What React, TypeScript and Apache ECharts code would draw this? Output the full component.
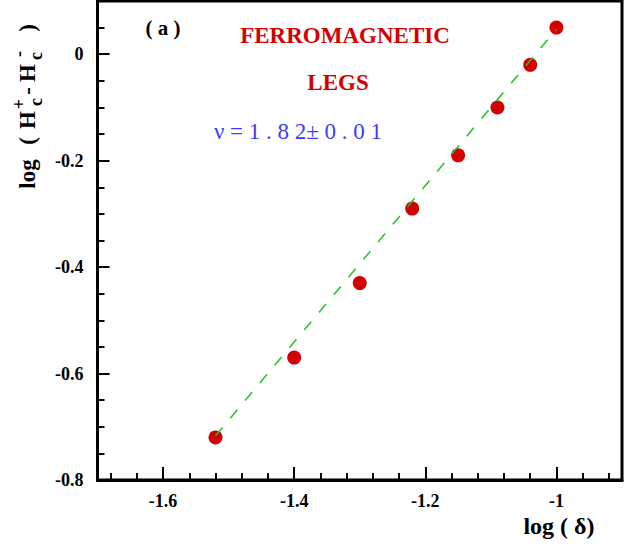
import React, { useEffect, useRef } from "react";
import * as echarts from "echarts";

const xValues = [-1.52, -1.4, -1.3, -1.22, -1.15, -1.09, -1.04, -1.0];
const yValues = [-0.72, -0.57, -0.43, -0.29, -0.19, -0.1, -0.02, 0.05];
const fitX = [-1.52, -1.0];
const fitY = [-0.717, 0.047];
const xMajorTicks = [-1.6, -1.4, -1.2, -1.0];
const yMajorTicks = [-0.8, -0.6, -0.4, -0.2, 0];

const X_MIN = -1.7, X_MAX = -0.9, Y_MIN = -0.8, Y_MAX = 0.1;

function steps(from: number, to: number, step: number): number[] {
  const out: number[] = [];
  const n = Math.round((to - from) / step);
  for (let i = 0; i <= n; i++) out.push(Math.round((from + i * step) * 1000) / 1000);
  return out;
}
const xMinorTicks = steps(-1.68, -0.92, 0.04);
const yMinorTicks = steps(-0.75, 0.05, 0.05);

const SERIF = "'Liberation Serif', 'Times New Roman', serif";
const RED = "#d20000";
const BLUE = "#3c3cff";

export default function App() {
  const ref = useRef<HTMLDivElement>(null);
  useEffect(() => {
    if (!ref.current) return;
    const chart = echarts.init(ref.current, null, { renderer: "svg" });
    const baseAxis = {
      type: "value",
      axisLine: { show: true, onZero: false, lineStyle: { color: "#000", width: 3 } },
      splitLine: { show: false },
    };
    const labelStyle = { color: "#000", fontFamily: SERIF, fontWeight: "bold", fontSize: 18 };
    const rot = Math.PI / 2;
    const yt = (text: string, x: number, y: number, size: number) => ({
      type: "text",
      x,
      y,
      rotation: rot,
      style: {
        text,
        fill: "#000",
        font: `bold ${size}px ${SERIF}`,
        textAlign: "center",
        textVerticalAlign: "middle",
      },
    });
    const option: any = {
      animation: false,
      backgroundColor: "#fff",
      grid: {
        left: 97.5,
        right: 11,
        top: 1,
        bottom: 67,
        show: true,
        borderColor: "#000",
        borderWidth: 3,
        outerBoundsMode: "none",
        containLabel: false,
      },
      xAxis: [
        {
          ...baseAxis,
          min: X_MIN,
          max: X_MAX,
          position: "bottom",
          axisTick: {
            show: true,
            inside: true,
            length: 13,
            customValues: xMajorTicks,
            lineStyle: { color: "#000", width: 2 },
          },
          axisLabel: { ...labelStyle, margin: 12, customValues: xMajorTicks },
        },
        {
          ...baseAxis,
          min: X_MIN,
          max: X_MAX,
          position: "bottom",
          axisLine: { show: false, onZero: false },
          axisTick: {
            show: true,
            inside: true,
            length: 7,
            customValues: xMinorTicks,
            lineStyle: { color: "#000", width: 2 },
          },
          axisLabel: { show: false },
        },
      ],
      yAxis: [
        {
          ...baseAxis,
          min: Y_MIN,
          max: Y_MAX,
          position: "left",
          axisTick: {
            show: true,
            inside: true,
            length: 12,
            customValues: yMajorTicks,
            lineStyle: { color: "#000", width: 2 },
          },
          axisLabel: { ...labelStyle, margin: 14, customValues: yMajorTicks },
        },
        {
          ...baseAxis,
          min: Y_MIN,
          max: Y_MAX,
          position: "left",
          axisLine: { show: false, onZero: false },
          axisTick: {
            show: true,
            inside: true,
            length: 7,
            customValues: yMinorTicks,
            lineStyle: { color: "#000", width: 2 },
          },
          axisLabel: { show: false },
        },
      ],
      series: [
        {
          type: "scatter",
          xAxisIndex: 0,
          yAxisIndex: 0,
          symbol: "circle",
          symbolSize: 14,
          itemStyle: { color: RED, opacity: 1 },
          data: xValues.map((x, i) => [x, yValues[i]]),
          z: 2,
        },
        {
          type: "line",
          xAxisIndex: 0,
          yAxisIndex: 0,
          symbol: "none",
          lineStyle: { color: "#22c422", width: 1.5, type: [11, 12] },
          data: fitX.map((x, i) => [x, fitY[i]]),
          z: 3,
        },
      ],
      graphic: [
        {
          type: "text",
          x: 163,
          y: 28,
          style: { text: "( a )", fill: "#000", font: `bold 21px ${SERIF}`, textAlign: "center", textVerticalAlign: "middle" },
        },
        {
          type: "text",
          x: 345,
          y: 35,
          style: { text: "FERROMAGNETIC", fill: RED, font: `bold 23px ${SERIF}`, textAlign: "center", textVerticalAlign: "middle" },
        },
        {
          type: "text",
          x: 338,
          y: 82,
          style: { text: "LEGS", fill: RED, font: `bold 23px ${SERIF}`, textAlign: "center", textVerticalAlign: "middle" },
        },
        {
          type: "text",
          x: 298,
          y: 131,
          style: { text: "ν = 1 . 8 2± 0 . 0 1", fill: BLUE, font: `23px ${SERIF}`, textAlign: "center", textVerticalAlign: "middle" },
        },
        {
          type: "text",
          x: 559,
          y: 526,
          style: { text: "log ( δ)", fill: "#000", font: `bold 24px ${SERIF}`, textAlign: "center", textVerticalAlign: "middle" },
        },
        yt("log", 27, 174, 23),
        yt("(", 27, 141, 23),
        yt("H", 27, 120, 23),
        yt("+", 19, 104, 18),
        yt("c", 36, 102, 18),
        yt("-", 27, 91, 23),
        yt("H", 27, 73, 23),
        yt("c", 36, 56, 18),
        yt("-", 19, 54, 18),
        yt(")", 27, 28, 23),
      ],
    };
    chart.setOption(option);
    return () => chart.dispose();
  }, []);
  return (
    <div
      ref={ref}
      style={{ position: "absolute", left: 0, top: 0, width: 633, height: 547 }}
    />
  );
}
